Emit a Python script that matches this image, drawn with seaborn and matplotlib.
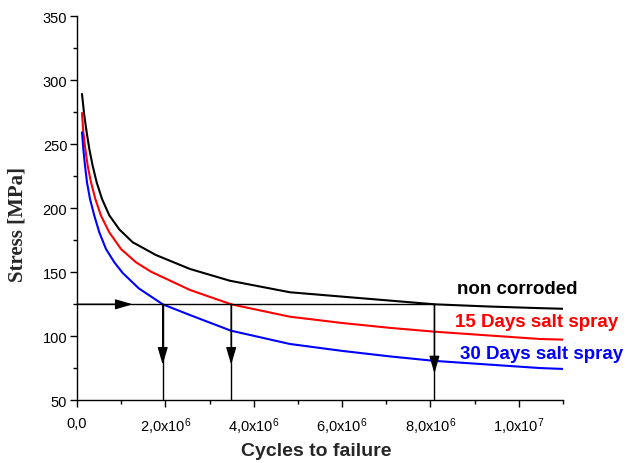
import numpy as np
import pandas as pd
import matplotlib
matplotlib.use("Agg")
import matplotlib.pyplot as plt
import seaborn as sns

# ---- data (cycles in millions, stress in MPa) ----
black_x = [0.113, 0.166, 0.219, 0.279, 0.354, 0.445, 0.566, 0.731, 0.958, 1.259, 1.787,
           2.557, 3.462, 4.819, 6.0, 7.081, 8.09, 9.3, 10.475, 11.0]
black_y = [289.3, 272.3, 259.4, 246.3, 233.3, 220.3, 207.3, 194.5, 183.5, 173.5, 163.5,
           152.6, 143.4, 134.4, 131.0, 127.9, 125.0, 123.3, 122.0, 121.5]

red_x = [0.113, 0.143, 0.189, 0.241, 0.317, 0.415, 0.543, 0.731, 0.995, 1.335, 1.674,
         2.557, 3.49, 4.819, 6.0, 7.081, 8.09, 10.475, 11.0]
red_y = [274.5, 259.4, 246.3, 233.3, 220.3, 207.3, 194.2, 181.2, 168.2, 157.8, 150.5,
         136.2, 125.0, 115.3, 110.4, 106.6, 103.6, 97.9, 97.4]

blue_x = [0.113, 0.143, 0.181, 0.226, 0.294, 0.392, 0.505, 0.656, 0.845, 1.033, 1.4,
          1.94, 2.557, 3.484, 4.819, 6.0, 7.081, 8.09, 10.475, 11.0]
blue_y = [259.4, 246.3, 233.3, 220.3, 207.3, 194.2, 181.2, 168.2, 157.8, 149.5, 137.4,
          125.0, 116.6, 104.4, 94.0, 88.6, 84.3, 80.8, 75.2, 74.5]

series_names = ["non corroded", "15 Days salt spray", "30 Days salt spray"]
series_colors = ["#000000", "#ff0000", "#0000ff"]
label_x = [8.59e6, 8.55e6, 8.67e6]
label_y = [137.0, 111.4, 86.2]

stress_level = 125.0
failure_cycles = [1.94e6, 3.49e6, 8.09e6]
arrow_tips = [77.8, 77.8, 71.0]
horiz_arrow_tip = 1.26e6

x_ticks = [0, 2e6, 4e6, 6e6, 8e6, 1e7]
x_ticklabels = ["0,0", "2,0x10$^6$", "4,0x10$^6$", "6,0x10$^6$", "8,0x10$^6$", "1,0x10$^7$"]
y_ticks = [50, 100, 150, 200, 250, 300, 350]

# ---- build a long table ----
frames = []
for name, xs, ys in zip(series_names, [black_x, red_x, blue_x], [black_y, red_y, blue_y]):
    frames.append(pd.DataFrame({"cycles": np.array(xs) * 1e6, "stress": ys, "series": name}))
df = pd.concat(frames, ignore_index=True)

sns.set_style("ticks")
plt.rcParams["font.family"] = ["Liberation Sans", "DejaVu Sans"]
plt.rcParams["mathtext.default"] = "regular"

fig = plt.figure(figsize=(6.26, 4.64), dpi=100)
ax = fig.add_axes([77 / 626, 1 - 401.3 / 464, (563 - 77) / 626, (401.3 - 17.3) / 464])

sns.lineplot(data=df, x="cycles", y="stress", hue="series", hue_order=series_names,
             palette=dict(zip(series_names, series_colors)), lw=1.5, legend=False,
             ax=ax, sort=False, estimator=None)
for ln in ax.get_lines():
    ln.set_solid_joinstyle("round")

ax.set_xlim(0, 1.1e7)
ax.set_ylim(50, 350)

# reference lines and arrows
arrow_style = "-|>,head_length=0.75,head_width=0.22"
ax.plot([0, failure_cycles[-1]], [stress_level, stress_level], color="k", lw=1)
ax.annotate("", xy=(horiz_arrow_tip, stress_level), xytext=(0, stress_level),
            arrowprops=dict(arrowstyle=arrow_style, color="k", lw=1,
                            shrinkA=0, shrinkB=0, mutation_scale=14))
for xc, tip in zip(failure_cycles, arrow_tips):
    ax.plot([xc, xc], [stress_level, 50], color="k", lw=1)
    ax.annotate("", xy=(xc, tip), xytext=(xc, stress_level),
                arrowprops=dict(arrowstyle=arrow_style, color="k", lw=1,
                                shrinkA=0, shrinkB=0, mutation_scale=14))

# curve labels
for name, col, lx, ly in zip(series_names, series_colors, label_x, label_y):
    ax.text(lx, ly, name, color=col, fontsize=13.5, fontweight="bold",
            ha="left", va="center", clip_on=False)

# axes styling
sns.despine(ax=ax)
for s in ["left", "bottom"]:
    ax.spines[s].set_linewidth(1.0)
    ax.spines[s].set_color("k")
ax.set_xticks(x_ticks)
ax.set_xticklabels(x_ticklabels)
ax.set_xticks(np.arange(1e6, 1.1e7 + 1, 2e6), minor=True)
ax.set_yticks(y_ticks)
ax.set_yticks(np.arange(75, 350, 50), minor=True)
ax.tick_params(axis="both", which="major", direction="out", length=5, width=1,
               labelsize=10.5, color="k", labelcolor="k")
ax.tick_params(axis="both", which="minor", direction="out", length=3, width=1, color="k")
ax.tick_params(axis="x", which="major", pad=6)
ax.tick_params(axis="y", which="major", pad=2)

ax.set_xlabel("")
ax.set_ylabel("")
fig.text(316 / 626, 1 - 452 / 464, "Cycles to failure", fontsize=14, fontweight="bold",
         ha="center", va="center")
fig.text(18 / 626, 1 - 225 / 464, "Stress [MPa]", fontsize=15, fontweight="bold",
         family=["Liberation Serif", "DejaVu Serif"], rotation=90, ha="center", va="center")

fig.savefig("out.png", dpi=100)
